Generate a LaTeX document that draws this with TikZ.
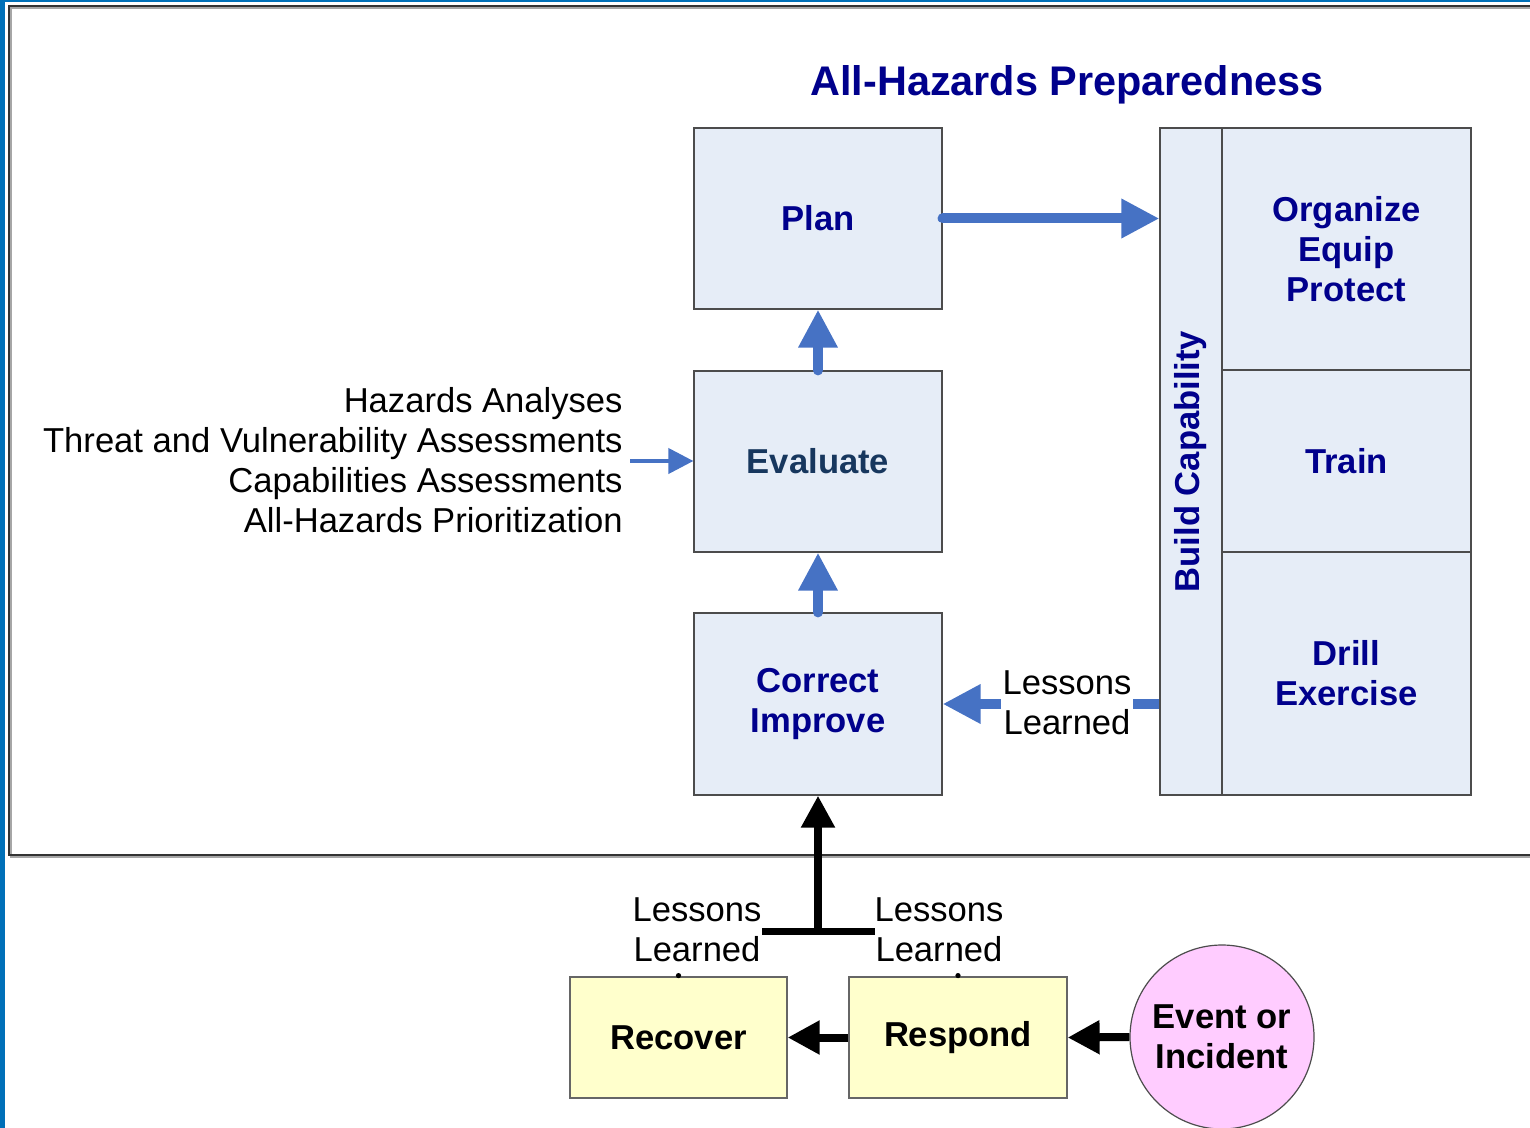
\documentclass[tikz,border=0pt]{standalone}
\usepackage{fontspec}
\setmainfont{Liberation Sans}
\usetikzlibrary{arrows.meta}
\definecolor{navy}{RGB}{0,0,140}
\definecolor{slate}{RGB}{23,55,94}
\definecolor{boxblue}{RGB}{230,237,247}
\definecolor{arrblue}{RGB}{70,114,196}
\definecolor{lemon}{RGB}{255,255,204}
\definecolor{pinkfill}{RGB}{255,204,255}
\definecolor{edgeblue}{RGB}{0,112,184}
\begin{document}
\begin{tikzpicture}[x=0.5pt,y=-0.5pt,
  txt/.style={font=\fontsize{17.3}{20}\selectfont, inner sep=0pt, align=center},
  bx/.style={draw=black!70, line width=0.6pt, fill=boxblue, inner sep=0pt,
    font=\fontsize{17.3}{20}\selectfont\bfseries, text=navy, align=center},
  ybx/.style={draw=black!60, line width=0.6pt, fill=lemon, inner sep=0pt,
    minimum width=108.5pt, minimum height=60.5pt,
    font=\fontsize{17.3}{20}\selectfont\bfseries, text=black, align=center},
  bluearr/.style={draw=arrblue, line width=5pt, line cap=round,
    -{Triangle[length=19pt,width=18.5pt]}},
  thinarr/.style={draw=arrblue, line width=2pt,
    -{Triangle[length=12.5pt,width=12.5pt]}},
  blackarr/.style={draw=black, line width=4pt,
    -{Triangle[length=16pt,width=16pt]}},
]
\useasboundingbox (0,0) rectangle (1530,1128);
\clip (0,0) rectangle (1530,1128);
% page frame
\fill[edgeblue] (0,0) rectangle (5,1128);
\fill[edgeblue] (0,0) rectangle (1530,2.5);
\draw[black!35, line width=0.8pt] (11,8) rectangle (1560,857);
\draw[black!80, line width=0.7pt] (9,6) rectangle (1560,855);

% title
\node[font=\fontsize{20.7}{24}\selectfont\bfseries, text=navy, inner sep=0pt] (title) at (1067,85) {All-Hazards Preparedness};

% left column of boxes
\node[bx, minimum width=124pt, minimum height=90.5pt] (plan) at (818,218.5) {Plan};
\node[bx, minimum width=124pt, minimum height=90.5pt, text=slate] (eval) at (818,461.5) {Evaluate};
\node[bx, minimum width=124pt, minimum height=91pt] (corr) at (818,704) {Correct\\Improve};

% build capability column
\node[bx, minimum width=31pt, minimum height=333.5pt] (build) at (1191,461.5) {};
\node[font=\fontsize{17.3}{20}\selectfont\bfseries, text=navy, rotate=90, inner sep=0pt] (buildlbl) at (build.center) {Build Capability};
\node[bx, minimum width=124.5pt, minimum height=121pt] (org) at (1346.5,249) {Organize\\Equip\\Protect};
\node[bx, minimum width=124.5pt, minimum height=91pt] (train) at (1346.5,461) {Train};
\node[bx, minimum width=124.5pt, minimum height=121.5pt] (drill) at (1346.5,673.5) {Drill\\Exercise};

% blue arrows
\draw[bluearr] (plan.east) -- (plan.east -| build.west);
\draw[bluearr] (eval.north) -- (plan.south);
\draw[bluearr] (corr.north) -- (eval.south);
\draw[bluearr, line cap=butt] (corr.east -| build.west) -- (corr.east);
\node[txt, fill=white, inner xsep=1pt] (ll1) at (1067,703) {Lessons\\Learned};

% hazards text
\node[txt, align=right, anchor=east] (haz) at (623,460) {Hazards Analyses\\Threat and Vulnerability Assessments\\Capabilities Assessments\\All-Hazards Prioritization};
\coordinate (hazend) at (630,461);
\draw[thinarr] (hazend) -- (hazend -| eval.west);

% bottom part
\node[ybx] (recover) at (678.5,1037.5) {Recover};
\node[ybx, minimum width=109pt] (respond) at (958,1037.5) {Respond};
\node[circle, draw=black!70, line width=0.6pt, fill=pinkfill, minimum size=92pt, inner sep=0pt,
  font=\fontsize{17.3}{20}\selectfont\bfseries, align=center] (event) at (1222,1037) {Event or\\Incident};

\draw[blackarr] (respond.west) -- (recover.east);
\draw[blackarr] (event.west) -- (respond.east);

\coordinate (junc) at (818,931);
\coordinate (barL) at (762,931);
\coordinate (barR) at (875,931);
\draw[black, line width=3.5pt] (barL) -- (barR);
\draw[blackarr] (junc) -- (corr.south);

\node[txt] (ll2) at (697,930) {Lessons\\Learned};
\node[txt] (ll3) at (939,930) {Lessons\\Learned};

\fill[black] ([yshift=0.4pt]recover.north) circle (2.6);
\fill[black] ([yshift=0.4pt]respond.north) circle (2.6);
\end{tikzpicture}
\end{document}
